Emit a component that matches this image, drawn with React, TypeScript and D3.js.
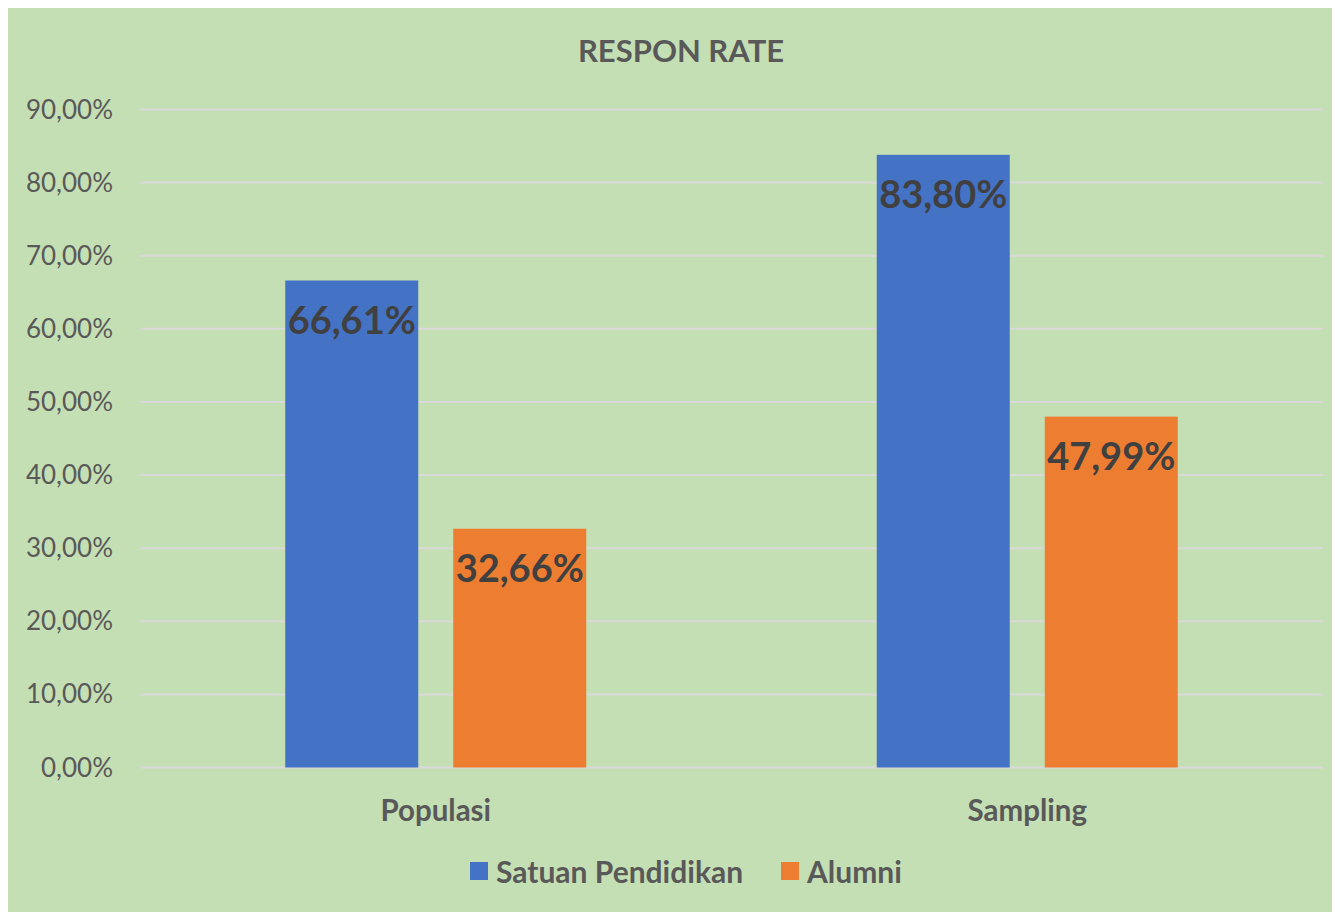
import React from "react";
import * as d3 from "d3";

const categories = ["Populasi", "Sampling"];
const seriesNames = ["Satuan Pendidikan", "Alumni"];
const satuanPendidikan = [66.61, 83.8];
const alumni = [32.66, 47.99];
const yTicks = [0, 10, 20, 30, 40, 50, 60, 70, 80, 90];
const title = "RESPON RATE";

const colors = ["#4472C4", "#ED7D31"];
const W = 1332;
const H = 904;
const FONT = "Lato, 'Open Sans', sans-serif";

const fmt = (v: number) => v.toFixed(2).replace(".", ",") + "%";

export default function App() {
  // page coordinates, offset by the body margin through the group transform
  const x0 = d3.scaleBand<string>().domain(categories).range([140, 1323]);
  const groupW = 301;
  const x1 = d3.scaleBand<string>().domain(seriesNames).range([0, groupW]).paddingInner(35 / 168);
  const y = d3.scaleLinear().domain([0, 90]).range([767.5, 109.5]);
  const series = [satuanPendidikan, alumni];

  return (
    <svg width={W} height={H} style={{ display: "block" }}>
      <g transform="translate(-8,-8)">
        <rect x={8} y={8} width={W} height={H} fill="#C5DFB4" />
        <text x={681} y={62} textAnchor="middle" fontFamily={FONT} fontWeight="bold" fontSize={31} fill="#595959">
          {title}
        </text>
        {yTicks.map((t) => (
          <g key={t}>
            <line x1={140} x2={1323} y1={y(t)} y2={y(t)} stroke="#D9D9D9" strokeWidth={2} />
            <text x={113} y={y(t)} dy="0.35em" textAnchor="end" fontFamily={FONT} fontSize={26} fill="#595959">
              {fmt(t)}
            </text>
          </g>
        ))}
        {categories.map((c, ci) => {
          const gx = (x0(c) as number) + (x0.bandwidth() - groupW) / 2;
          return (
            <g key={c}>
              {seriesNames.map((s, si) => {
                const v = series[si][ci];
                const bx = gx + (x1(s) as number);
                const bw = x1.bandwidth();
                return (
                  <g key={s}>
                    <rect x={bx} y={y(v)} width={bw} height={y(0) - y(v)} fill={colors[si]} />
                    <text
                      x={bx + bw / 2}
                      y={y(v) + 53}
                      textAnchor="middle"
                      fontFamily={FONT}
                      fontWeight="bold"
                      fontSize={38}
                      fill="#404040"
                    >
                      {fmt(v)}
                    </text>
                  </g>
                );
              })}
              <text
                x={(x0(c) as number) + x0.bandwidth() / 2}
                y={821}
                textAnchor="middle"
                fontFamily={FONT}
                fontWeight="bold"
                fontSize={29.5}
                fill="#595959"
              >
                {c}
              </text>
            </g>
          );
        })}
        {seriesNames.map((s, si) => {
          const lx = [470, 781][si];
          return (
            <g key={s}>
              <rect x={lx} y={862} width={18} height={18} fill={colors[si]} />
              <text x={lx + 26} y={883} fontFamily={FONT} fontWeight="bold" fontSize={30} fill="#595959">
                {s}
              </text>
            </g>
          );
        })}
      </g>
    </svg>
  );
}
